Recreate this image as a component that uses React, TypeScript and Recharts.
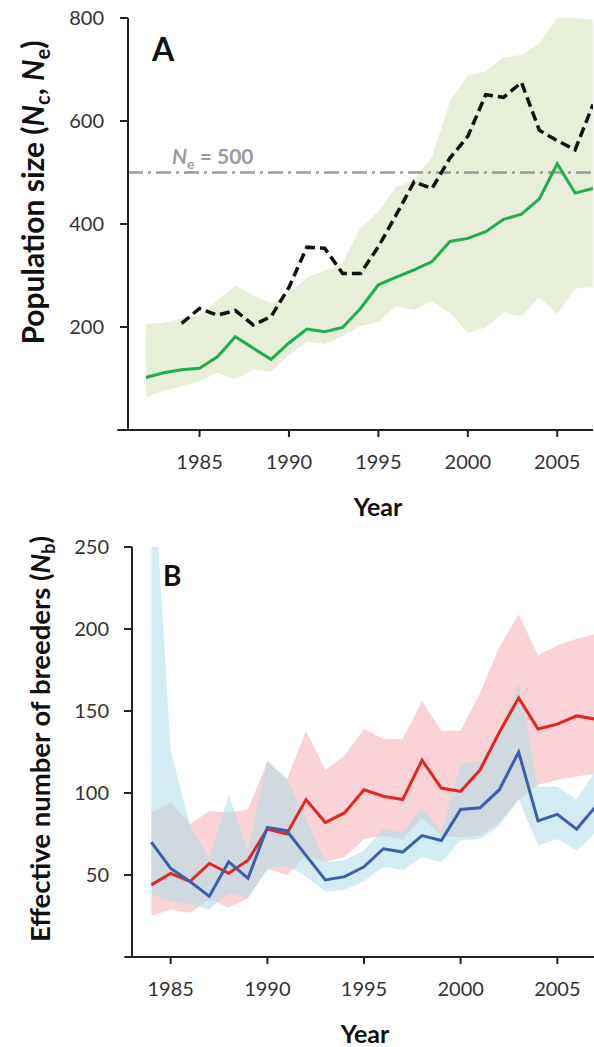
import React from 'react';
import { ComposedChart, Area, Line, XAxis, YAxis, ReferenceLine } from 'recharts';

const FONT = 'Lato, "Open Sans", sans-serif';

// Panel A
const yearsA = [1982, 1983, 1984, 1985, 1986, 1987, 1988, 1989, 1990, 1991, 1992, 1993, 1994, 1995, 1996, 1997, 1998, 1999, 2000, 2001, 2002, 2003, 2004, 2005, 2006, 2007];
const neA = [102, 111, 117, 120, 142, 181, 159, 137, 169, 196, 191, 199, 236, 282, 297, 311, 327, 366, 372, 385, 409, 419, 449, 517, 460, 469];
const ncA = [null, null, 207, 236, 223, 232, 204, 220, 277, 355, 353, 304, 304, 356, 418, 482, 469, 528, 570, 651, 646, 675, 582, 562, 544, 632];
const bandALow = [63, 76, 85, 94, 111, 98, 117, 113, 146, 171, 167, 183, 202, 210, 241, 233, 250, 227, 189, 199, 228, 221, 258, 225, 275, 277];
const bandAHigh = [206, 208, 217, 223, 252, 280, 262, 246, 265, 296, 309, 324, 392, 425, 472, 485, 531, 638, 689, 696, 724, 728, 751, 800, 800, 797];
const yTicksA = [200, 400, 600, 800];

// Panel B
const yearsB = [1984, 1985, 1986, 1987, 1988, 1989, 1990, 1991, 1992, 1993, 1994, 1995, 1996, 1997, 1998, 1999, 2000, 2001, 2002, 2003, 2004, 2005, 2006, 2007];
const redNb = [44, 51, 46, 57, 51, 59, 78, 75, 96, 82, 88, 102, 98, 96, 120, 103, 101, 114, 137, 158, 139, 142, 147, 145];
const blueNb = [70, 54, 46, 37, 58, 48, 79, 77, 62, 47, 49, 55, 66, 64, 74, 71, 90, 91, 102, 125, 83, 87, 78, 92];
const redLow = [25, 29, 27, 35, 30, 36, 54, 50, 62, 58, 61, 72, 74, 72, 85, 74, 73, 74, 82, 96, 105, 108, 110, 112];
const redHigh = [88, 94, 81, 89, 88, 90, 119, 108, 138, 114, 123, 139, 133, 133, 156, 138, 138, 161, 189, 209, 184, 190, 194, 197];
const blueLow = [38, 34, 32, 29, 39, 36, 53, 56, 49, 40, 41, 46, 55, 53, 61, 58, 71, 72, 80, 96, 68, 72, 65, 76];
const blueHigh = [320, 126, 80, 60, 99, 65, 120, 109, 84, 58, 59, 65, 78, 76, 91, 76, 118, 119, 137, 167, 104, 104, 96, 114];
const yTicksB = [50, 100, 150, 200, 250];

const xTicks = [1985, 1990, 1995, 2000, 2005];

const dataA = yearsA.map((year, i) => ({
  year,
  ne: neA[i],
  nc: ncA[i],
  band: [bandALow[i], bandAHigh[i]],
}));

const dataB = yearsB.map((year, i) => ({
  year,
  red: redNb[i],
  blue: blueNb[i],
  redBand: [redLow[i], redHigh[i]],
  blueBand: [blueLow[i], blueHigh[i]],
}));

const tickStyle = { fill: '#333', fontSize: 20, fontFamily: FONT };
const lineStyle = { stroke: '#222', strokeWidth: 2 };

export default function App() {
  return (
    <div style={{ position: 'absolute', left: 0, top: 0, width: 594, height: 1047, overflow: 'hidden', background: '#fff' }}>
      <div style={{ position: 'absolute', left: 0, top: 0 }}>
        <ComposedChart width={594} height={520} data={dataA} margin={{ top: 18, right: 1, bottom: 0, left: 0 }}>
          <XAxis
            type="number"
            dataKey="year"
            domain={[1981, 2007]}
            ticks={xTicks}
            axisLine={false}
            tickLine={lineStyle}
            tickSize={7}
            tickMargin={18}
            height={90}
            tick={tickStyle}
            allowDataOverflow
          />
          <YAxis
            type="number"
            domain={[0, 800]}
            ticks={yTicksA}
            width={128}
            axisLine={lineStyle}
            tickLine={lineStyle}
            tickSize={8}
            tickMargin={16}
            tick={tickStyle}
            allowDataOverflow
          />
          <Area dataKey="band" type="linear" stroke="none" fill="#e8efd9" fillOpacity={1} isAnimationActive={false} />
          <ReferenceLine y={500} stroke="#9b9b9b" strokeWidth={2.5} strokeDasharray="15 5 3 5" />
          <ReferenceLine segment={[{ x: 1980.4, y: 0 }, { x: 2007, y: 0 }]} ifOverflow="visible" stroke="#222" strokeWidth={2} />
          <Line dataKey="ne" type="linear" stroke="#1fae4b" strokeWidth={3} dot={false} activeDot={false} isAnimationActive={false} />
          <Line dataKey="nc" type="linear" stroke="#111" strokeWidth={3.5} strokeDasharray="10 5" dot={false} activeDot={false} isAnimationActive={false} />
        </ComposedChart>
      </div>
      <div style={{ position: 'absolute', left: 0, top: 520 }}>
        <ComposedChart width={598} height={527} data={dataB} margin={{ top: 27, right: 2, bottom: 0, left: 0 }}>
          <XAxis
            type="number"
            dataKey="year"
            domain={[1983, 2007]}
            ticks={xTicks}
            axisLine={false}
            tickLine={lineStyle}
            tickSize={7}
            tickMargin={18}
            height={90}
            tick={tickStyle}
            allowDataOverflow
          />
          <YAxis
            type="number"
            domain={[0, 250]}
            ticks={yTicksB}
            width={132}
            axisLine={lineStyle}
            tickLine={lineStyle}
            tickSize={8}
            tickMargin={15}
            tick={tickStyle}
            allowDataOverflow
          />
          <Area dataKey="redBand" type="linear" stroke="none" fill="#f9d3d5" fillOpacity={1} isAnimationActive={false} />
          <Area dataKey="blueBand" type="linear" stroke="none" fill="rgb(177,220,232)" fillOpacity={0.56} isAnimationActive={false} />
          <ReferenceLine segment={[{ x: 1982.6, y: 0 }, { x: 2007, y: 0 }]} ifOverflow="visible" stroke="#222" strokeWidth={2} />
          <Line dataKey="red" type="linear" stroke="#e62421" strokeWidth={3} dot={false} activeDot={false} isAnimationActive={false} />
          <Line dataKey="blue" type="linear" stroke="#3b5fad" strokeWidth={3} dot={false} activeDot={false} isAnimationActive={false} />
        </ComposedChart>
      </div>
      <svg width={594} height={1047} style={{ position: 'absolute', left: 0, top: 0, pointerEvents: 'none' }}>
        <text x={152} y={61} fontSize={32} fontWeight={700} fontFamily={FONT} fill="#111">A</text>
        <text x={163} y={586} fontSize={28} fontWeight={700} fontFamily={FONT} fill="#111">B</text>
        <text x={172} y={164} fontSize={21} fontWeight={700} fontFamily={FONT} fill="#9b9b9b">
          <tspan fontStyle="italic">N</tspan>
          <tspan fontSize={14} dy={5}>e</tspan>
          <tspan dy={-5}> = 500</tspan>
        </text>
        <text x={378} y={516} textAnchor="middle" fontSize={25} fontWeight={700} fontFamily={FONT} fill="#111">Year</text>
        <text x={365} y={1043} textAnchor="middle" fontSize={25} fontWeight={700} fontFamily={FONT} fill="#111">Year</text>
        <text transform="translate(43.5,192.5) rotate(-90)" textAnchor="middle" fontSize={30} fontWeight={700} fontFamily={FONT} fill="#111">
          Population size (<tspan fontStyle="italic">N</tspan>
          <tspan fontSize={20} dy={6}>c</tspan>
          <tspan dy={-6}>, </tspan>
          <tspan fontStyle="italic">N</tspan>
          <tspan fontSize={20} dy={6}>e</tspan>
          <tspan dy={-6}>)</tspan>
        </text>
        <text transform="translate(50,739) rotate(-90)" textAnchor="middle" fontSize={27.5} fontWeight={700} fontFamily={FONT} fill="#111">
          Effective number of breeders (<tspan fontStyle="italic">N</tspan>
          <tspan fontSize={18} dy={5}>b</tspan>
          <tspan dy={-5}>)</tspan>
        </text>
      </svg>
    </div>
  );
}
